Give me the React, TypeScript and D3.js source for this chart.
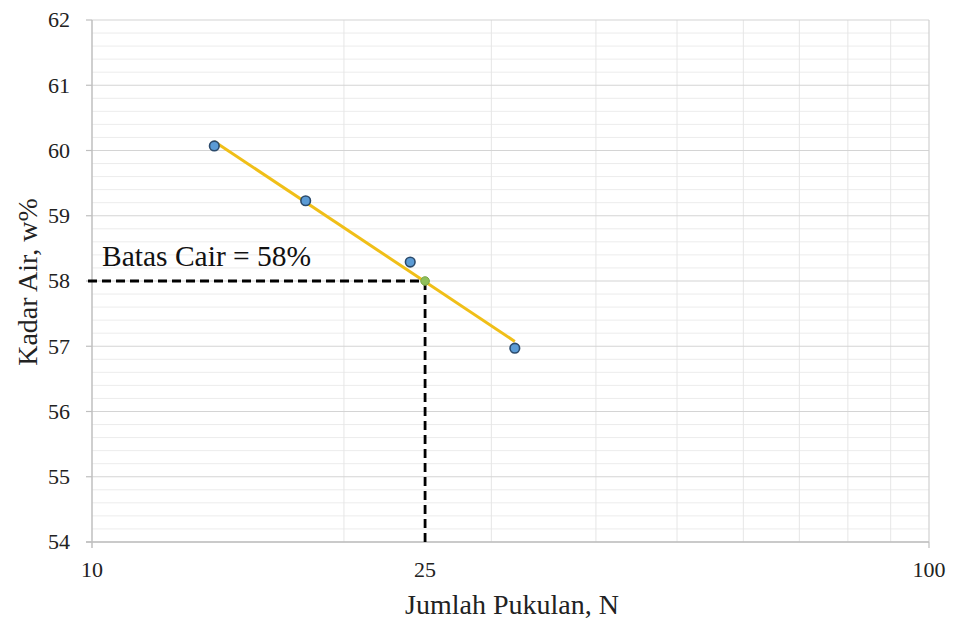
import React from "react";
import * as d3 from "d3";

const blowsN = [14, 18, 24, 32];
const waterContent = [60.07, 59.23, 58.29, 56.97];
const liquidLimitN = 25;
const liquidLimitW = 58;
const xTickLabels = [10, 25, 100];
const xGridValues = [20, 30, 40, 50, 60, 70, 80, 90];
const yTickLabels = [54, 55, 56, 57, 58, 59, 60, 61, 62];
const annotationText = "Batas Cair = 58%";
const xTitle = "Jumlah Pukulan, N";
const yTitle = "Kadar Air, w%";

const W = 953;
const H = 623;
const L = 92, R = 929, T = 20, B = 542;

export default function App() {
  const x = d3.scaleLog().domain([10, 100]).range([L, R]);
  const y = d3.scaleLinear().domain([54, 62]).range([B, T]);

  // least squares trend on log10(N)
  const lx = blowsN.map((n) => Math.log10(n));
  const mx = d3.mean(lx) as number;
  const my = d3.mean(waterContent) as number;
  let sxy = 0, sxx = 0;
  lx.forEach((v, i) => {
    sxy += (v - mx) * (waterContent[i] - my);
    sxx += (v - mx) * (v - mx);
  });
  const slope = sxy / sxx;
  const trend = (n: number) => my + slope * (Math.log10(n) - mx);
  const nMin = d3.min(blowsN) as number;
  const nMax = d3.max(blowsN) as number;
  const trendPts: [number, number][] = [nMin, nMax].map((n) => [x(n), y(trend(n))]);
  const line = d3.line();

  const minorY: number[] = [];
  for (let v = 54; v < 62 - 1e-9; v += 1) {
    for (let k = 1; k < 5; k++) minorY.push(v + k * 0.2);
  }

  const font = "'Liberation Serif', 'Times New Roman', serif";

  return (
    <svg width={W} height={H} style={{ position: "absolute", left: 0, top: 0, background: "#fff" }} fontFamily={font}>
      {/* minor horizontal grid */}
      {minorY.map((v, i) => (
        <line key={"mh" + i} x1={L} x2={R} y1={y(v)} y2={y(v)} stroke="#ececec" strokeWidth={1} />
      ))}
      {/* vertical grid */}
      {xGridValues.map((v) => (
        <line key={"vg" + v} x1={x(v)} x2={x(v)} y1={T} y2={B} stroke="#e6e6e6" strokeWidth={1} />
      ))}
      {/* major horizontal grid */}
      {yTickLabels.map((v) => (
        <line key={"hg" + v} x1={L} x2={R} y1={y(v)} y2={y(v)} stroke="#d4d4d4" strokeWidth={1.2} />
      ))}
      {/* plot frame */}
      <line x1={R} x2={R} y1={T} y2={B} stroke="#d0d0d0" strokeWidth={1.2} />
      {/* axes */}
      <line x1={L} x2={L} y1={T} y2={B + 6} stroke="#bfbfbf" strokeWidth={1.5} />
      <line x1={L - 6} x2={R} y1={B} y2={B} stroke="#bfbfbf" strokeWidth={1.5} />
      {yTickLabels.map((v) => (
        <line key={"yt" + v} x1={L - 6} x2={L} y1={y(v)} y2={y(v)} stroke="#bfbfbf" strokeWidth={1.2} />
      ))}
      <line x1={R} x2={R} y1={B} y2={B + 6} stroke="#bfbfbf" strokeWidth={1.2} />

      {/* y tick labels */}
      {yTickLabels.map((v) => (
        <text key={"yl" + v} x={70} y={y(v)} dy="0.34em" textAnchor="end" fontSize={22} fill="#222">
          {v}
        </text>
      ))}
      {/* x tick labels */}
      {xTickLabels.map((v) => (
        <text key={"xl" + v} x={x(v)} y={577} textAnchor="middle" fontSize={22} fill="#222">
          {v}
        </text>
      ))}

      {/* dashed guide lines */}
      <line x1={L - 4} x2={x(liquidLimitN)} y1={y(liquidLimitW)} y2={y(liquidLimitW)} stroke="#000" strokeWidth={2.8} strokeDasharray="9,5" />
      <line x1={x(liquidLimitN)} x2={x(liquidLimitN)} y1={y(liquidLimitW)} y2={B} stroke="#000" strokeWidth={2.8} strokeDasharray="9,5" />

      {/* trend line */}
      <path d={line(trendPts) || ""} fill="none" stroke="#f0bf18" strokeWidth={3} />

      {/* data points */}
      {blowsN.map((n, i) => (
        <circle key={"p" + i} cx={x(n)} cy={y(waterContent[i])} r={4.8} fill="#5b9bd5" stroke="#2b4a6b" strokeWidth={1.6} />
      ))}
      <circle cx={x(liquidLimitN)} cy={y(liquidLimitW)} r={4.3} fill="#8fbf5a" stroke="#7aa84a" strokeWidth={1} />

      {/* annotation */}
      <text x={102} y={266} fontSize={29.5} fill="#111">{annotationText}</text>

      {/* axis titles */}
      <text x={512} y={614} textAnchor="middle" fontSize={28} fill="#222">{xTitle}</text>
      <text transform={`translate(37, 282) rotate(-90)`} textAnchor="middle" fontSize={28} fill="#222">{yTitle}</text>
    </svg>
  );
}
